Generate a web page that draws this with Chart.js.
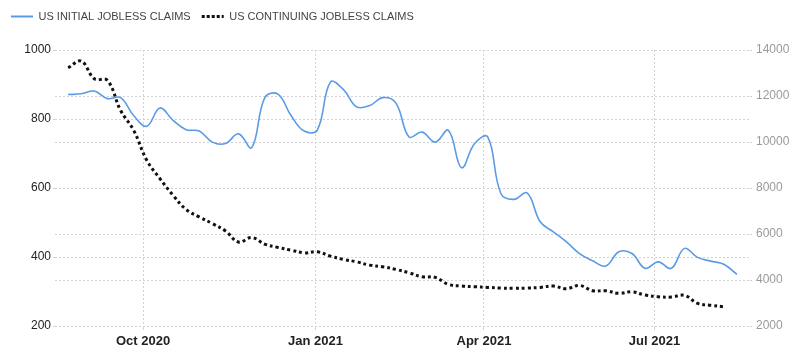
<!DOCTYPE html>
<html>
<head>
<meta charset="utf-8">
<script src="https://cdn.jsdelivr.net/npm/chart.js@4.4.0/dist/chart.umd.min.js"></script>
<style>
  html, body { margin: 0; padding: 0; background: #fff; }
  #wrap { width: 800px; height: 361px; }
</style>
</head>
<body>
<div id="wrap"><canvas id="myChart"></canvas></div>
<script>
// weekly dates (week ending)
const weeks = [
  '2020-08-22','2020-08-29','2020-09-05','2020-09-12','2020-09-19','2020-09-26',
  '2020-10-03','2020-10-10','2020-10-17','2020-10-24','2020-10-31',
  '2020-11-07','2020-11-14','2020-11-21','2020-11-28',
  '2020-12-05','2020-12-12','2020-12-19','2020-12-26',
  '2021-01-02','2021-01-09','2021-01-16','2021-01-23','2021-01-30',
  '2021-02-06','2021-02-13','2021-02-20','2021-02-27',
  '2021-03-06','2021-03-13','2021-03-20','2021-03-27',
  '2021-04-03','2021-04-10','2021-04-17','2021-04-24',
  '2021-05-01','2021-05-08','2021-05-15','2021-05-22','2021-05-29',
  '2021-06-05','2021-06-12','2021-06-19','2021-06-26',
  '2021-07-03','2021-07-10','2021-07-17','2021-07-24','2021-07-31',
  '2021-08-07','2021-08-14'
];
// thousands
const initialClaims = [871, 873, 881, 859, 862, 810, 779, 832, 796, 769, 765,
  733, 729, 757, 717, 862, 872, 810, 765, 768, 907, 885, 835, 839, 862, 846,
  748, 762, 733, 767, 659, 729, 748, 584, 567, 586, 502, 473, 444, 410, 389,
  374, 415, 410, 367, 386, 367, 425, 399, 388, 379, 350];
// one week shorter
const continuingClaims = [13227, 13515, 12750, 12676, 11374, 10506, 9204, 8410,
  7685, 7065, 6743, 6457, 6136, 5650, 5849, 5559, 5415, 5298, 5181, 5224, 5038,
  4894, 4790, 4647, 4574, 4461, 4313, 4140, 4114, 3810, 3736, 3707, 3679, 3649,
  3636, 3649, 3679, 3736, 3620, 3765, 3533, 3533, 3419, 3489, 3345, 3272, 3258,
  3332, 2985, 2898, 2838];
const tickDates = ['2020-10-01', '2021-01-01', '2021-04-01', '2021-07-01'];
const tickLabels = ['Oct 2020', 'Jan 2021', 'Apr 2021', 'Jul 2021'];
const xRange = ['2020-08-15', '2021-08-21'];

const dayNum = s => Date.parse(s + 'T00:00:00Z') / 86400000;
const tickDays = tickDates.map(dayNum);

const gridCol = '#d2d2d2';

const legendHeight = {
  id: 'legendHeight',
  beforeLayout(chart) {
    const lg = chart.legend;
    if (lg && !lg._fixed) {
      const fit = lg.fit;
      lg.fit = function () { fit.call(this); this.height = 50; };
      lg._fixed = true;
    }
  }
};

const ctx = document.getElementById('myChart').getContext('2d');
const myChart = new Chart(ctx, {
  type: 'line',
  data: {
    datasets: [{
      label: 'US INITIAL JOBLESS CLAIMS',
      data: initialClaims.map((v, i) => ({x: dayNum(weeks[i]), y: v})),
      yAxisID: 'y',
      borderColor: '#5b9be6',
      borderWidth: 1.6,
      pointRadius: 0,
      tension: 0.4,
      fill: false
    }, {
      label: 'US CONTINUING JOBLESS CLAIMS',
      data: continuingClaims.map((v, i) => ({x: dayNum(weeks[i]), y: v})),
      yAxisID: 'y1',
      borderColor: '#111',
      borderWidth: 3,
      borderDash: [3, 3],
      pointRadius: 0,
      tension: 0.4,
      fill: false
    }]
  },
  options: {
    responsive: true,
    maintainAspectRatio: false,
    animation: false,
    layout: { padding: 0 },
    plugins: {
      tooltip: { enabled: false },
      legend: {
        position: 'top',
        align: 'start',
        labels: {
          color: '#444',
          font: { family: 'Liberation Sans, Arial, sans-serif', size: 11 },
          usePointStyle: true,
          pointStyleWidth: 22,
          boxHeight: 8,
          padding: 11,
          generateLabels(chart) {
            return chart.data.datasets.map((ds, i) => ({
              text: ds.label,
              strokeStyle: ds.borderColor,
              fillStyle: ds.borderColor,
              lineWidth: i === 0 ? 2 : 3,
              lineDash: i === 0 ? [] : [3, 2],
              pointStyle: 'line',
              fontColor: '#444',
              datasetIndex: i,
              hidden: false
            }));
          }
        }
      }
    },
    scales: {
      x: {
        type: 'linear',
        min: dayNum(xRange[0]),
        max: dayNum(xRange[1]),
        afterBuildTicks(scale) {
          scale.ticks = tickDays.map(v => ({value: v}));
        },
        afterFit(scale) { scale.height = 35; },
        ticks: {
          autoSkip: false,
          maxRotation: 0,
          padding: 4,
          color: '#222',
          font: { family: 'Liberation Sans Narrow, Arial Narrow, Liberation Sans, sans-serif', size: 13, weight: 'bold' },
          callback(v) {
            const k = tickDays.indexOf(v);
            return k >= 0 ? tickLabels[k] : '';
          }
        },
        grid: { color: gridCol, tickLength: 4 },
        border: { display: false, dash: [2, 2] }
      },
      y: {
        position: 'left',
        min: 200,
        max: 1000,
        afterFit(scale) { scale.width = 55; },
        ticks: {
          stepSize: 200,
          padding: 2,
          color: '#222',
          font: { family: 'Liberation Sans, Arial, sans-serif', size: 12 },
          callback: v => String(v)
        },
        grid: { color: gridCol, tickLength: 2 },
        border: { display: false, dash: [2, 2] }
      },
      y1: {
        position: 'right',
        min: 2000,
        max: 14000,
        afterFit(scale) { scale.width = 50; },
        ticks: {
          stepSize: 2000,
          padding: 4,
          color: '#9a9a9a',
          font: { family: 'Liberation Sans, Arial, sans-serif', size: 12 },
          callback: v => String(v)
        },
        grid: { color: gridCol, tickLength: 2 },
        border: { display: false, dash: [2, 2] }
      }
    }
  },
  plugins: [legendHeight]
});
</script>
</body>
</html>
